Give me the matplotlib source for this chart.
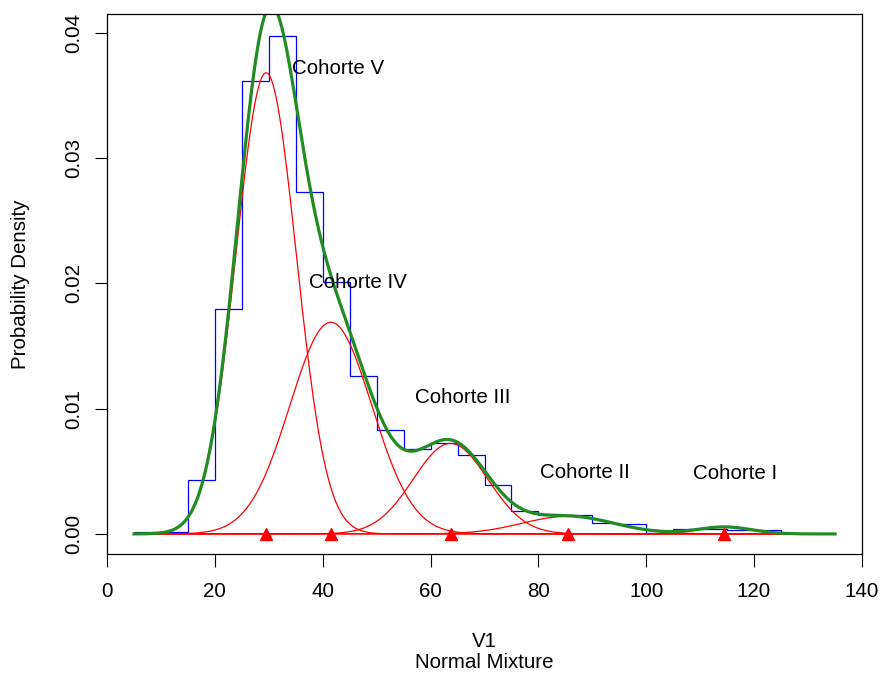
import numpy as np
import matplotlib
matplotlib.use('Agg')
import matplotlib.pyplot as plt

plt.rcParams['font.family'] = ['Liberation Sans', 'DejaVu Sans']

# Histogram (density) of V1, bins of width 5
bin_edges = [5, 10, 15, 20, 25, 30, 35, 40, 45, 50, 55, 60, 65, 70, 75,
             80, 85, 90, 95, 100, 105, 110, 115, 120, 125]
bin_density = [0.00015, 0.00015, 0.0043, 0.0180, 0.0362, 0.0398, 0.0273,
               0.0201, 0.0126, 0.0083, 0.0068, 0.0073, 0.0063, 0.0039,
               0.0018, 0.0015, 0.0015, 0.0009, 0.0008, 0.0001, 0.0004,
               0.0004, 0.0003, 0.0003]

# Fitted normal mixture components (Cohorte V .. I)
comp_names = ['Cohorte V', 'Cohorte IV', 'Cohorte III', 'Cohorte II', 'Cohorte I']
comp_pi = [0.517, 0.322, 0.125, 0.030, 0.007]
comp_mu = [29.5, 41.5, 63.7, 85.5, 114.5]
comp_sigma = [5.6, 7.6, 6.9, 8.5, 5.0]

# label positions (data coords)
label_x = [42.9, 46.6, 65.9, 88.7, 116.5]
label_y = [0.0372, 0.0201, 0.0109, 0.0049, 0.0048]

x_range = (5, 135)


def dnorm(x, mu, sd):
    return np.exp(-0.5 * ((x - mu) / sd) ** 2) / (sd * np.sqrt(2 * np.pi))


fig = plt.figure(figsize=(8.81, 6.75), dpi=100)
ax = fig.add_axes([0.1215, 0.1793, 0.8569, 0.8000])

# histogram outline
ax.stairs(bin_density, bin_edges, color='#0000FF', linewidth=0.9, baseline=0)

xs = np.linspace(x_range[0], x_range[1], 400)
mix = np.zeros_like(xs)
for p, mu, sd in zip(comp_pi, comp_mu, comp_sigma):
    yc = p * dnorm(xs, mu, sd)
    mix += yc
    ax.plot(xs, yc, color='#FF0000', linewidth=0.9)

ax.plot(xs, mix, color='#228B22', linewidth=2.3)

ax.plot(comp_mu, [0] * len(comp_mu), linestyle='none', marker='^',
        color='#FF0000', markersize=8, clip_on=False)

for name, lx, ly in zip(comp_names, label_x, label_y):
    ax.text(lx, ly, name, ha='center', va='center', fontsize=14.8)

ax.set_xlim(0, 140)
ax.set_ylim(-0.0016, 0.04152)
ax.set_xticks([0, 20, 40, 60, 80, 100, 120, 140])
ax.set_yticks([0.00, 0.01, 0.02, 0.03, 0.04])
ax.set_yticklabels(['0.00', '0.01', '0.02', '0.03', '0.04'])

ax.tick_params(axis='both', direction='out', length=9, width=0.8,
               labelsize=14.8, color='black')
ax.tick_params(axis='x', pad=11)
ax.tick_params(axis='y', pad=8)
for lab in ax.get_yticklabels():
    lab.set_rotation(90)
    lab.set_va('center')

for sp in ax.spines.values():
    sp.set_linewidth(0.9)

fig.text(0.0238, 0.579, 'Probability Density', rotation=90,
         ha='center', va='center', fontsize=14.8)
fig.text(0.55, 0.0419, 'V1', ha='center', va='baseline', fontsize=14.8)
fig.text(0.55, 0.0099, 'Normal Mixture', ha='center', va='baseline', fontsize=14.8)

fig.savefig('out.png', dpi=100)
